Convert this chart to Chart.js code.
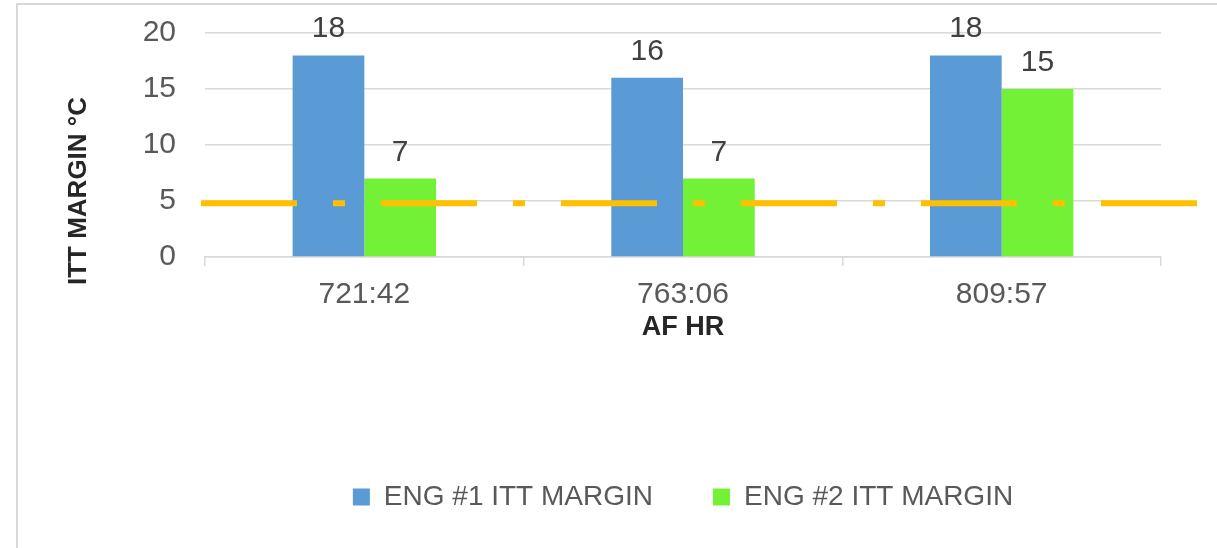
<!DOCTYPE html>
<html lang="en">
<head>
<meta charset="UTF-8">
<title>ITT Margin</title>
<script src="https://cdn.jsdelivr.net/npm/chart.js@4.4.1/dist/chart.umd.min.js"></script>
<style>
    html, body { margin: 0; padding: 0; background: #ffffff; }
    #wrap { position: relative; width: 1217px; height: 548px; overflow: hidden; }
    #frame {
        position: absolute; left: 16px; top: 3px; right: -4px; bottom: -4px;
        border-left: 2px solid #d9d9d9; border-top: 2px solid #d9d9d9;
        pointer-events: none;
    }
    canvas { position: absolute; left: 0; top: 0; }
</style>
</head>
<body>
<div id="wrap">
    <canvas id="ittChart" width="1217" height="548"></canvas>
    <div id="frame"></div>
</div>
<script>
// chart data
const categories = ['721:42', '763:06', '809:57'];
const eng1Margin = [18, 16, 18];
const eng2Margin = [7, 7, 15];
const yTickValues = [0, 5, 10, 15, 20];
const limitValue = [4.8];

const seriesNames = ['ENG #1 ITT MARGIN', 'ENG #2 ITT MARGIN'];
const yTitle = 'ITT MARGIN °C';
const FONT = "'Liberation Sans', Arial, sans-serif";

document.addEventListener('DOMContentLoaded', () => {

    /**
     * dashed orange limit line, a bit wider than the plot area
     */
    const limitLinePlugin = {
        id: 'limitLine',
        afterDatasetsDraw(chart) {
            const { ctx, chartArea, scales } = chart;
            const y = scales.y.getPixelForValue(limitValue[0]);
            ctx.save();
            ctx.strokeStyle = '#FFC000';
            ctx.lineWidth = 6;
            ctx.setLineDash([96, 36, 12, 36]);
            ctx.beginPath();
            ctx.moveTo(chartArea.left - 4, y);
            ctx.lineTo(chartArea.right + 36, y);
            ctx.stroke();
            ctx.restore();
        }
    };

    /**
     * value labels above every bar
     */
    const valueLabelPlugin = {
        id: 'valueLabels',
        afterDatasetsDraw(chart) {
            const ctx = chart.ctx;
            ctx.save();
            ctx.font = '30px ' + FONT;
            ctx.fillStyle = '#404040';
            ctx.textAlign = 'center';
            ctx.textBaseline = 'alphabetic';
            chart.data.datasets.forEach((ds, i) => {
                chart.getDatasetMeta(i).data.forEach((bar, j) => {
                    ctx.fillText(String(ds.data[j]), bar.x, bar.y - 18);
                });
            });
            ctx.restore();
        }
    };

    /**
     * rotated y axis title, sits lower than the plot centre like in Excel
     */
    const yTitlePlugin = {
        id: 'yTitle',
        afterDraw(chart) {
            const { ctx, chartArea } = chart;
            const cy = (chartArea.top + chartArea.bottom) / 2 + 46;
            ctx.save();
            ctx.translate(79, cy);
            ctx.rotate(-Math.PI / 2);
            ctx.font = 'bold 26px ' + FONT;
            ctx.fillStyle = '#262626';
            ctx.textAlign = 'center';
            ctx.textBaseline = 'middle';
            ctx.fillText(yTitle, 0, 0);
            ctx.restore();
        }
    };

    const ctx = document.getElementById('ittChart').getContext('2d');

    new Chart(ctx, {
        type: 'bar',
        data: {
            labels: categories,
            datasets: [
                {
                    label: seriesNames[0],
                    data: eng1Margin,
                    backgroundColor: '#5B9BD5',
                    categoryPercentage: 0.45,
                    barPercentage: 1.0
                },
                {
                    label: seriesNames[1],
                    data: eng2Margin,
                    backgroundColor: '#72F136',
                    categoryPercentage: 0.45,
                    barPercentage: 1.0
                }
            ]
        },
        options: {
            responsive: false,
            animation: false,
            layout: { padding: { top: 33, right: 56, left: 0, bottom: 27 } },
            scales: {
                x: {
                    afterFit: (scale) => { scale.height = 166; },
                    grid: {
                        display: true,
                        drawOnChartArea: false,
                        drawTicks: true,
                        tickLength: 9,
                        color: '#d9d9d9',
                        lineWidth: 1.5
                    },
                    border: { display: true, color: '#d9d9d9', width: 1.5 },
                    ticks: {
                        color: '#595959',
                        font: { family: FONT, size: 30 },
                        padding: 11
                    },
                    title: {
                        display: true,
                        text: 'AF HR',
                        color: '#262626',
                        font: { family: FONT, size: 27, weight: 'bold' },
                        padding: { top: 0, bottom: 79 }
                    }
                },
                y: {
                    min: yTickValues[0],
                    max: yTickValues[yTickValues.length - 1],
                    afterFit: (scale) => { scale.width = 205; },
                    afterBuildTicks: (scale) => {
                        scale.ticks = yTickValues.map(v => ({ value: v }));
                    },
                    grid: {
                        color: '#d9d9d9',
                        lineWidth: 1.5,
                        drawTicks: true,
                        tickLength: 26,
                        tickColor: 'rgba(0,0,0,0)'
                    },
                    border: { display: false },
                    ticks: {
                        color: '#595959',
                        font: { family: FONT, size: 30 },
                        padding: 3
                    },
                    title: { display: false }
                }
            },
            plugins: {
                legend: {
                    position: 'bottom',
                    fullSize: false,
                    labels: {
                        color: '#595959',
                        font: { family: FONT, size: 28 },
                        boxWidth: 17,
                        boxHeight: 17,
                        padding: 60
                    }
                },
                tooltip: { enabled: false }
            }
        },
        plugins: [limitLinePlugin, valueLabelPlugin, yTitlePlugin]
    });
});
</script>
</body>
</html>
